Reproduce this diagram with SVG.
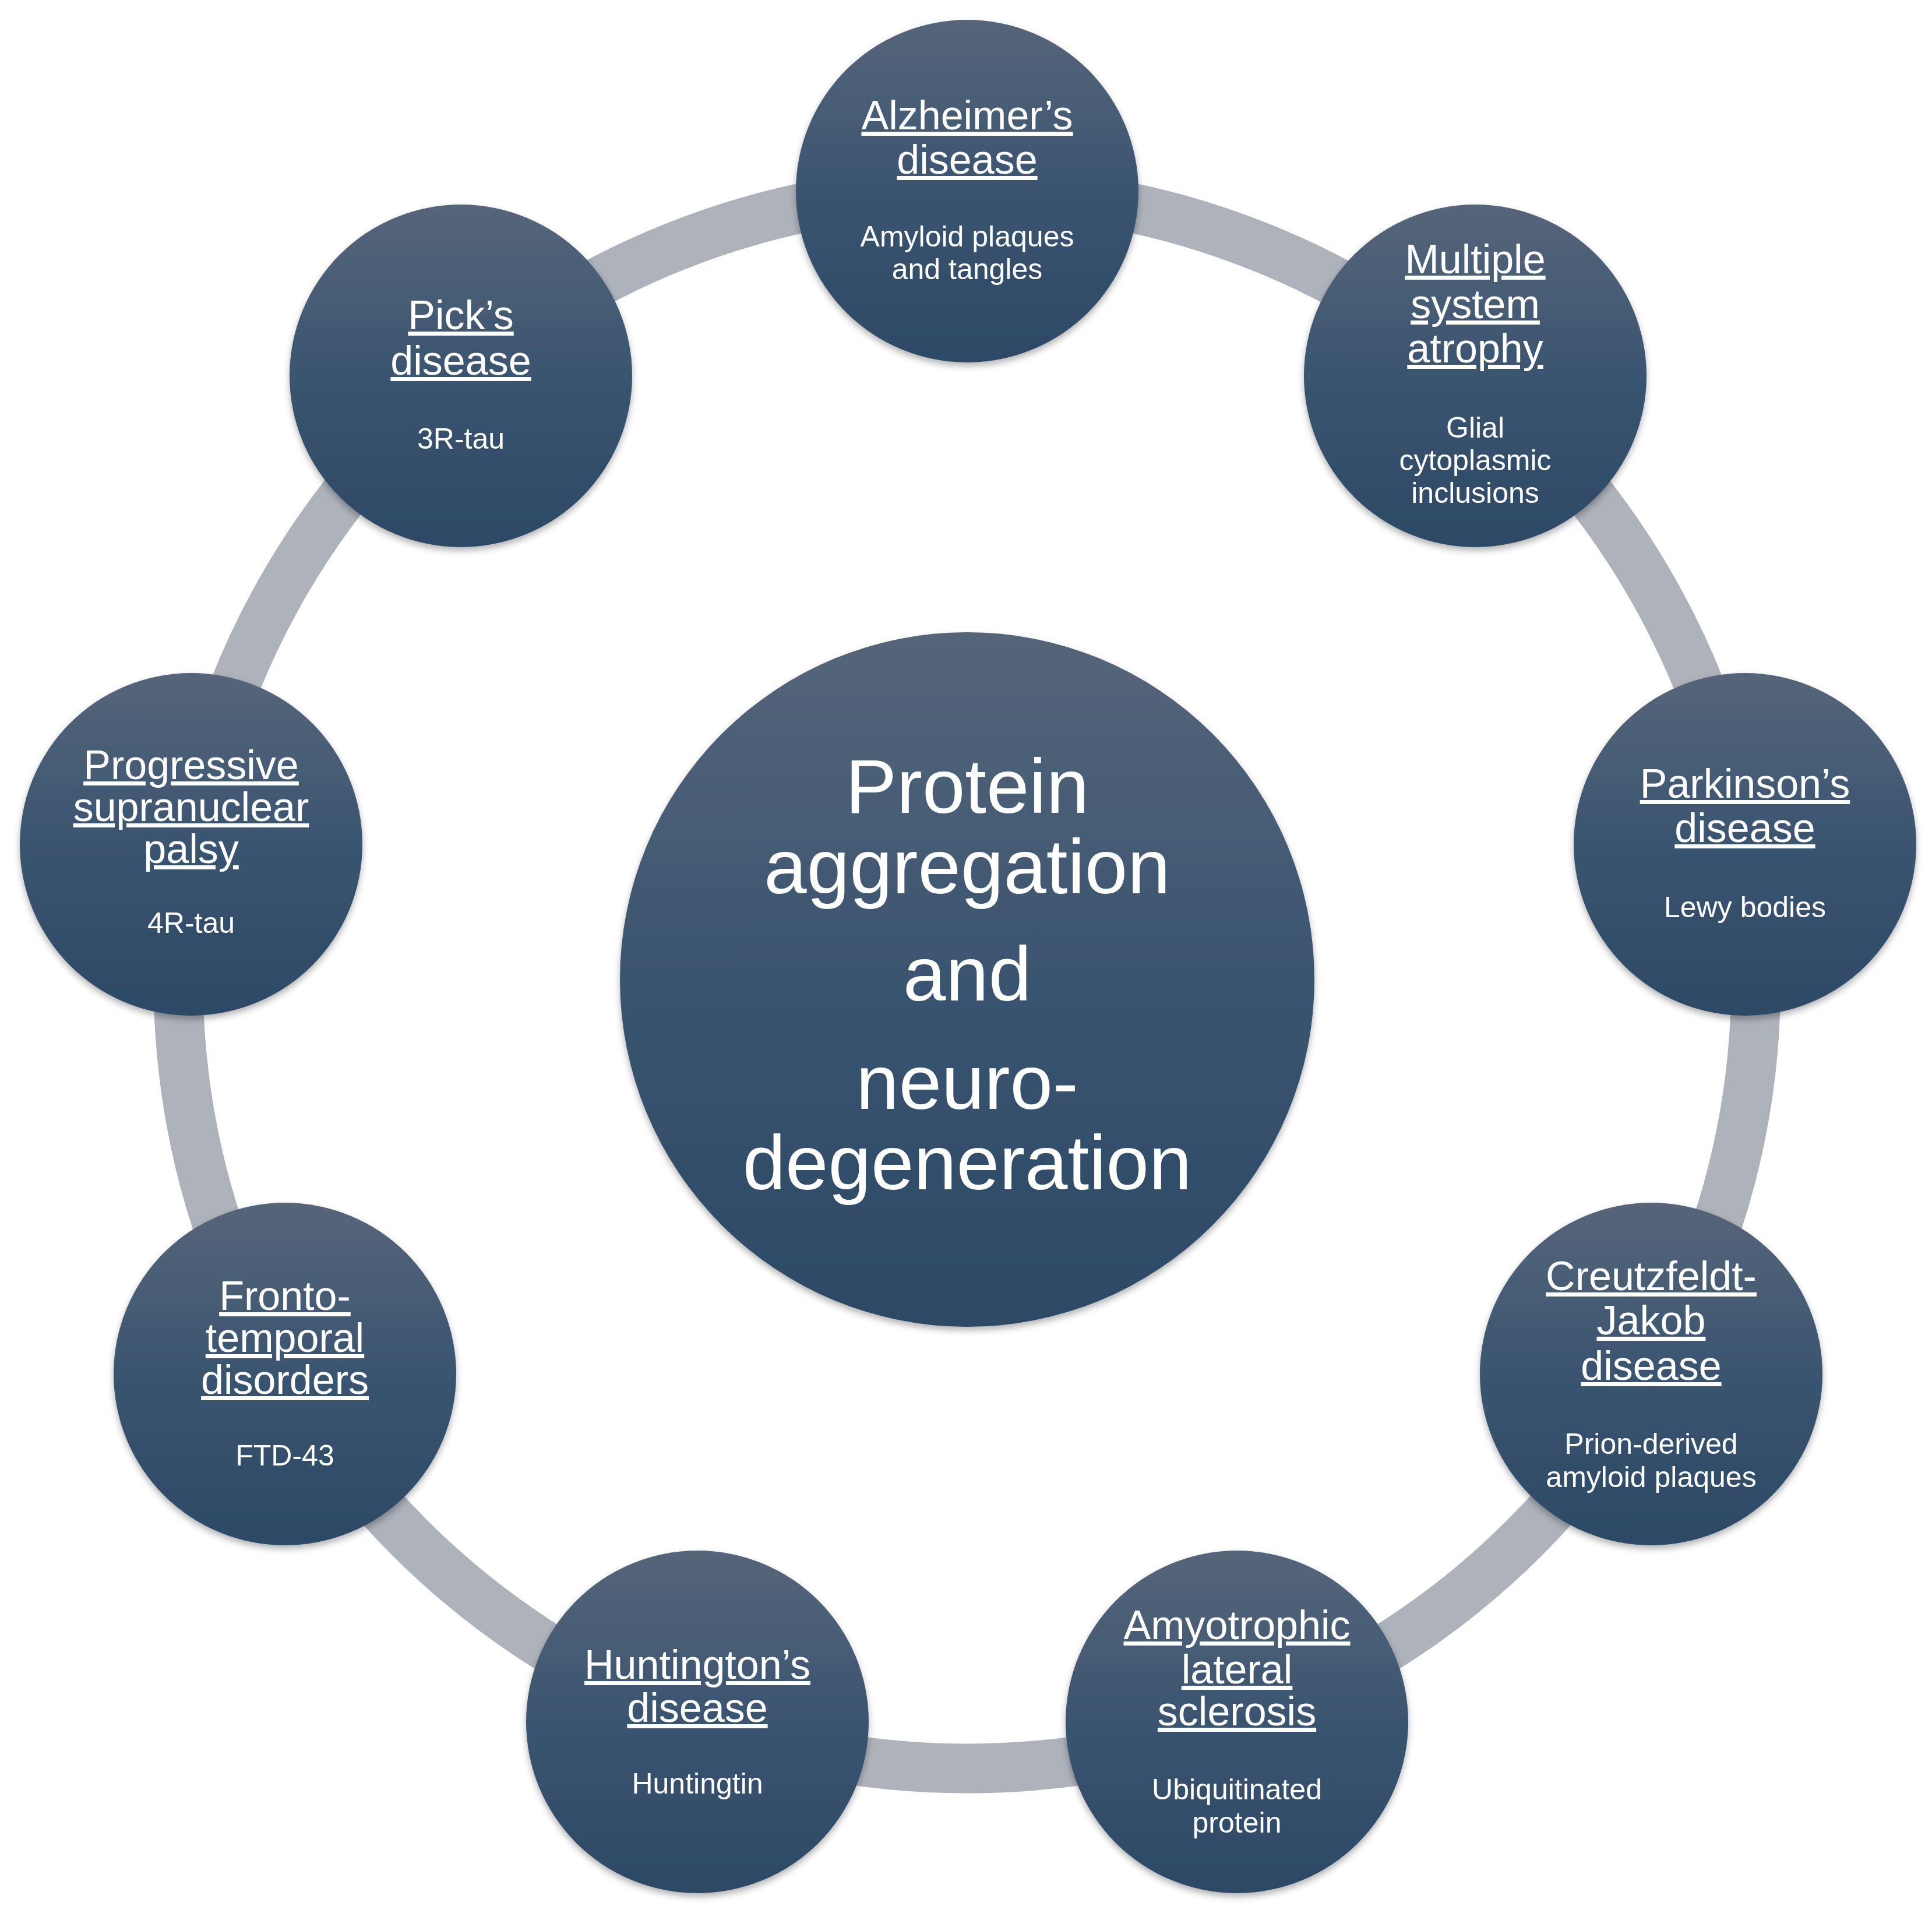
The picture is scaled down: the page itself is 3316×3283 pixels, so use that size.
<svg xmlns="http://www.w3.org/2000/svg" width="3316" height="3283" viewBox="0 0 3316 3283">
<defs>
<linearGradient id="g" x1="0" y1="0" x2="0" y2="1"><stop offset="0" stop-color="#56657a"/><stop offset="0.5" stop-color="#3a5470"/><stop offset="1" stop-color="#2d4965"/></linearGradient>
<filter id="sh" x="-10%" y="-10%" width="120%" height="125%"><feDropShadow dx="0" dy="6" stdDeviation="6" flood-color="#000" flood-opacity="0.3"/></filter>
</defs>
<style>
text{font-family:"Liberation Sans",Arial,sans-serif;fill:#fff;text-anchor:middle}
.t{font-size:70px;text-decoration:underline}
.s{font-size:50px}
.c{font-size:132px}
circle.n{fill:url(#g);filter:url(#sh)}
</style>
<rect width="3316" height="3283" fill="#fff"/>
<g id="connectors"><circle cx="1660" cy="1681" r="1354" fill="none" stroke="#adb2bb" stroke-width="85"/></g>
<g id="center"><circle class="n" cx="1660" cy="1681" r="596"/>
<text class="c" x="1660" y="1395">Protein</text><text class="c" x="1660" y="1533">aggregation</text><text class="c" x="1660" y="1717">and</text><text class="c" x="1660" y="1903">neuro-</text><text class="c" x="1660" y="2041">degeneration</text></g>
<g id="alz" transform="translate(1660,328)"><circle class="n" r="294"/><text class="t" y="-106">Alzheimer’s</text><text class="t" y="-30">disease</text><text class="s" y="95">Amyloid plaques</text><text class="s" y="151">and tangles</text></g>
<g id="msa" transform="translate(2532,645)"><circle class="n" r="294"/><text class="t" y="-176">Multiple</text><text class="t" y="-99">system</text><text class="t" y="-23">atrophy</text><text class="s" y="106">Glial</text><text class="s" y="162">cytoplasmic</text><text class="s" y="218">inclusions</text></g>
<g id="pd" transform="translate(2995,1449)"><circle class="n" r="294"/><text class="t" y="-80">Parkinson’s</text><text class="t" y="-4">disease</text><text class="s" y="125">Lewy bodies</text></g>
<g id="cjd" transform="translate(2834,2358)"><circle class="n" r="294"/><text class="t" y="-144">Creutzfeldt-</text><text class="t" y="-68">Jakob</text><text class="t" y="10">disease</text><text class="s" y="137">Prion-derived</text><text class="s" y="194">amyloid plaques</text></g>
<g id="als" transform="translate(2123,2955)"><circle class="n" r="294"/><text class="t" y="-142">Amyotrophic</text><text class="t" y="-66">lateral</text><text class="t" y="6">sclerosis</text><text class="s" y="133">Ubiquitinated</text><text class="s" y="190">protein</text></g>
<g id="hd" transform="translate(1197,2955)"><circle class="n" r="294"/><text class="t" y="-74">Huntington’s</text><text class="t" y="0">disease</text><text class="s" y="123">Huntingtin</text></g>
<g id="ftd" transform="translate(489,2358)"><circle class="n" r="294"/><text class="t" y="-110">Fronto-</text><text class="t" y="-38">temporal</text><text class="t" y="34">disorders</text><text class="s" y="157">FTD-43</text></g>
<g id="psp" transform="translate(328,1449)"><circle class="n" r="294"/><text class="t" y="-112">Progressive</text><text class="t" y="-40">supranuclear</text><text class="t" y="32">palsy</text><text class="s" y="152">4R-tau</text></g>
<g id="pick" transform="translate(791,645)"><circle class="n" r="294"/><text class="t" y="-80">Pick’s</text><text class="t" y="-2">disease</text><text class="s" y="125">3R-tau</text></g>
</svg>
